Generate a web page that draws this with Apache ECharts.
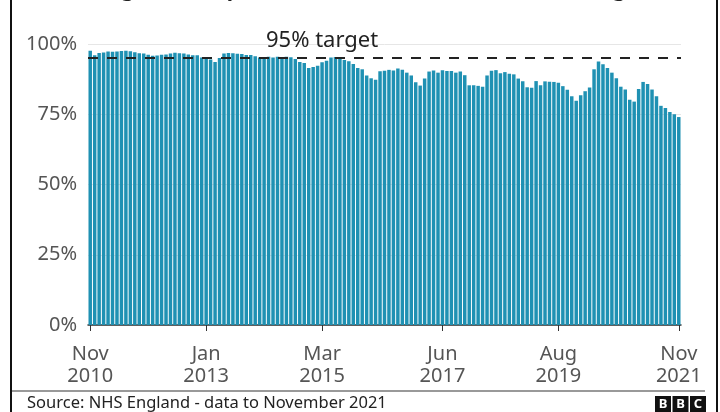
<!DOCTYPE html>
<html><head><meta charset="utf-8">
<script src="https://cdn.jsdelivr.net/npm/echarts@6/dist/echarts.min.js"></script>
<style>html,body{margin:0;padding:0;background:#fff}#c{width:720px;height:412px}</style>
</head><body><div id="c"></div>
<script>
// Monthly share of patients meeting the target, Nov 2010 .. Nov 2021
const startYear = 2010, startMonth = 10; // November (0-based month index)
const monthNames = ['Jan','Feb','Mar','Apr','May','Jun','Jul','Aug','Sep','Oct','Nov','Dec'];
const values = [
  97.6, 96.0, 96.8, 97.0, 97.3, 97.2, 97.3, 97.5, 97.6, 97.4, 97.1, 96.7,
  96.6, 96.2, 95.8, 95.9, 96.2, 96.3, 96.6, 96.9, 96.7, 96.6, 96.3, 96.0,
  96.0, 95.2, 95.1, 94.5, 93.6, 95.0, 96.6, 96.8, 96.7, 96.5, 96.4, 96.1,
  96.1, 95.6, 95.2, 95.3, 95.5, 95.2, 95.5, 95.1, 95.5, 95.3, 94.7, 93.6,
  93.2, 91.5, 91.8, 92.3, 93.5, 94.0, 95.2, 95.4, 94.9, 94.3, 93.9, 92.9,
  91.5, 91.0, 88.8, 87.8, 87.3, 90.3, 90.5, 90.8, 90.6, 91.3, 90.8, 89.8,
  88.8, 86.4, 85.2, 87.7, 90.2, 90.6, 89.8, 90.7, 90.4, 90.4, 89.8, 90.2,
  88.9, 85.3, 85.3, 85.1, 84.8, 88.8, 90.5, 90.7, 89.6, 90.0, 89.4, 89.2,
  87.7, 86.7, 84.6, 84.4, 86.8, 85.3, 86.7, 86.6, 86.5, 86.2, 85.0, 83.7,
  81.4, 79.8, 81.8, 83.2, 84.5, 91.0, 93.8, 92.8, 91.5, 89.8, 87.8, 84.8,
  83.8, 80.2, 79.5, 84.0, 86.5, 85.8, 83.8, 81.4, 78.0, 77.2, 75.8, 75.0,
  74.0
];
const categories = values.map((v, i) => {
  const t = startMonth + i;
  return monthNames[t % 12] + ' ' + (startYear + Math.floor(t / 12));
});
const tickLabels = ['Nov 2010', 'Jan 2013', 'Mar 2015', 'Jun 2017', 'Aug 2019', 'Nov 2021'];
const yMin = 0, yMax = 100, yStep = 25;
const target = 95;
const targetLabel = '95% target';
const targetLabelAt = 'Mar 2015';
const titleText = 'Percentage of A&E patients seen within four hours in England';
const sourceText = 'Source: NHS England - data to November 2021';

const FONT = '"Noto Sans", "Open Sans", sans-serif';
const showTick = (i, v) => tickLabels.indexOf(v) >= 0;

const chart = echarts.init(document.getElementById('c'), null, {renderer: 'canvas'});
chart.setOption({
  animation: false,
  backgroundColor: '#fff',
  grid: {left: 88, right: 39, top: 44, bottom: 87, containLabel: false},
  xAxis: {
    type: 'category',
    data: categories,
    boundaryGap: true,
    axisLine: {lineStyle: {color: '#333', width: 1.5}},
    axisTick: {show: true, alignWithLabel: true, interval: showTick, length: 6, lineStyle: {color: '#333', width: 1}},
    axisLabel: {
      interval: showTick,
      formatter: v => v.replace(' ', '\n'),
      color: '#555', fontSize: 20, lineHeight: 22, margin: 18, fontFamily: FONT
    },
    splitLine: {show: false}
  },
  yAxis: {
    type: 'value', min: yMin, max: yMax, interval: yStep,
    axisLine: {show: false}, axisTick: {show: false},
    axisLabel: {formatter: '{value}%', color: '#555', fontSize: 20, margin: 11, fontFamily: FONT},
    splitLine: {lineStyle: {color: '#e6e6e6', width: 1}}
  },
  series: [{
    type: 'bar',
    data: values,
    barCategoryGap: '22%',
    itemStyle: {color: '#1f91b3'},
    markLine: {
      silent: true, symbol: ['none', 'none'],
      data: [{yAxis: target}],
      lineStyle: {color: '#222', type: [10, 9], width: 2},
      label: {show: false}
    },
    markPoint: {
      silent: true, symbol: 'rect', symbolSize: 0,
      data: [{coord: [targetLabelAt, target]}],
      label: {show: true, formatter: targetLabel, position: 'inside', offset: [0, -17],
        color: '#222', fontSize: 22, fontFamily: FONT}
    }
  }],
  graphic: [
    {type: 'text', left: 28, top: -20, style: {text: titleText, font: 'bold 21px ' + FONT, fill: '#222'}},
    {type: 'rect', shape: {x: 10, y: 0, width: 2, height: 412}, style: {fill: '#111'}},
    {type: 'rect', shape: {x: 716, y: 0, width: 2, height: 412}, style: {fill: '#111'}},
    {type: 'line', shape: {x1: 12, y1: 391, x2: 705, y2: 391}, style: {stroke: '#999', lineWidth: 2}},
    {type: 'text', left: 27, top: 395, style: {text: sourceText, font: '16.5px ' + FONT, fill: '#222'}},
    {type: 'group', left: 655, top: 396, children: [
      {type: 'rect', shape: {x: 0, y: 0, width: 16, height: 16}, style: {fill: '#111'}},
      {type: 'rect', shape: {x: 17.5, y: 0, width: 16, height: 16}, style: {fill: '#111'}},
      {type: 'rect', shape: {x: 35, y: 0, width: 16, height: 16}, style: {fill: '#111'}},
      {type: 'text', x: 8, y: 8.5, style: {text: 'B', font: 'bold 13px ' + FONT, fill: '#fff', align: 'center', verticalAlign: 'middle'}},
      {type: 'text', x: 25.5, y: 8.5, style: {text: 'B', font: 'bold 13px ' + FONT, fill: '#fff', align: 'center', verticalAlign: 'middle'}},
      {type: 'text', x: 43, y: 8.5, style: {text: 'C', font: 'bold 13px ' + FONT, fill: '#fff', align: 'center', verticalAlign: 'middle'}}
    ]}
  ]
});
</script></body></html>
